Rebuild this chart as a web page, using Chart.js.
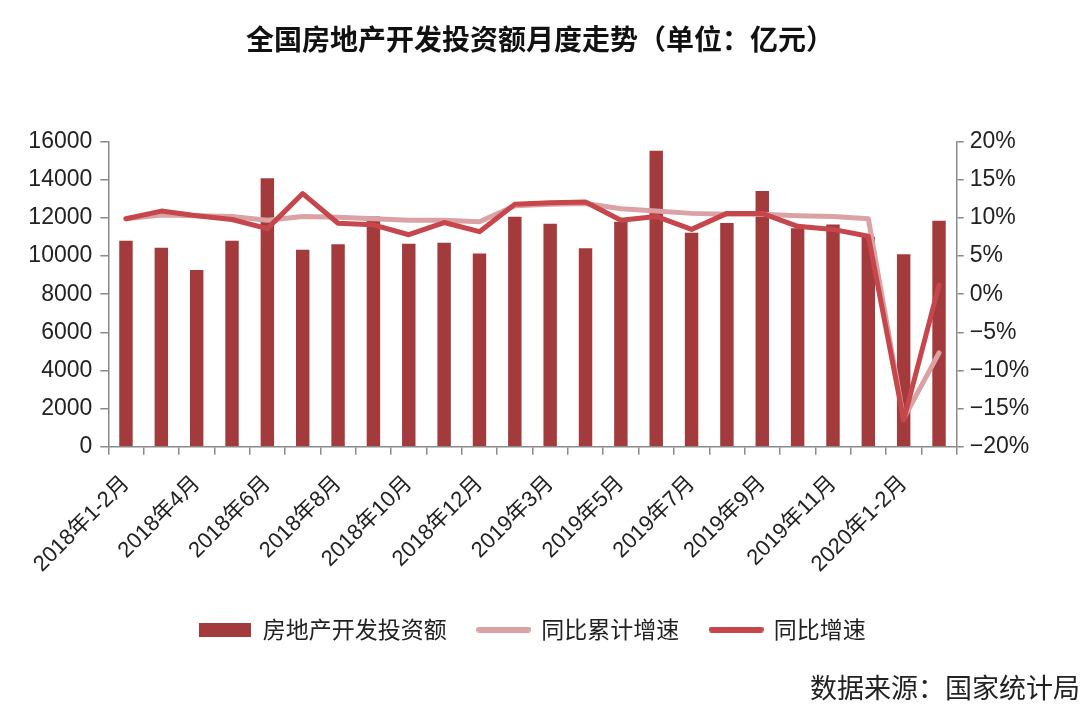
<!DOCTYPE html>
<html>
<head>
<meta charset="utf-8">
<script src="https://cdn.jsdelivr.net/npm/chart.js@4.4.1/dist/chart.umd.min.js"></script>
<style>
  html, body { margin: 0; padding: 0; background: #ffffff; }
  #wrap { width: 1080px; height: 718px; }
</style>
</head>
<body>
<div id="wrap"><canvas id="c" width="1080" height="718"></canvas></div>
<script>
// ---- data ----
const categories = ['2018年1-2月','2018年3月','2018年4月','2018年5月','2018年6月','2018年7月','2018年8月','2018年9月','2018年10月','2018年11月','2018年12月','2019年1-2月','2019年3月','2019年4月','2019年5月','2019年6月','2019年7月','2019年8月','2019年9月','2019年10月','2019年11月','2019年12月','2020年1-2月','2020年3月'];
const investment = [10807, 10440, 9270, 10807, 14077, 10335, 10615, 12080, 10650, 10700, 10140, 12067, 11700, 10407, 11800, 15527, 11226, 11740, 13410, 11454, 11660, 11016, 10093, 11850];
const cumulativeGrowth = [9.9, 10.4, 10.3, 10.2, 9.7, 10.2, 10.1, 9.9, 9.7, 9.7, 9.5, 11.6, 11.8, 11.9, 11.2, 10.9, 10.6, 10.5, 10.5, 10.3, 10.2, 9.9, -16.3, -7.7];
const monthlyGrowth = [9.9, 10.9, 10.3, 9.8, 8.6, 13.2, 9.3, 9.1, 7.8, 9.4, 8.2, 11.8, 12.0, 12.1, 9.7, 10.2, 8.5, 10.6, 10.6, 8.9, 8.5, 7.6, -16.5, 1.2];
const seriesNames = ['房地产开发投资额', '同比累计增速', '同比增速'];
const titleText = '全国房地产开发投资额月度走势（单位：亿元）';
const sourceText = '数据来源：国家统计局';

// ---- styles ----
const BAR = '#a33b3d';
const PINK = '#dba2a5';
const RED = '#c6464b';
const AXIS = '#8a8a8a';
const CJK = '"Noto Sans CJK SC"';
const NUM = '"Liberation Sans", "Noto Sans CJK SC"';

function swatch(w, h, color, rounded) {
  const c = document.createElement('canvas');
  c.width = w; c.height = h;
  const g = c.getContext('2d');
  if (rounded) {
    g.strokeStyle = color; g.lineWidth = h; g.lineCap = 'round';
    g.beginPath(); g.moveTo(h / 2, h / 2); g.lineTo(w - h / 2, h / 2); g.stroke();
  } else {
    g.fillStyle = color; g.fillRect(0, 0, w, h);
  }
  return c;
}
const legendImgs = [swatch(52, 14, BAR, false), swatch(55, 6, PINK, true), swatch(55, 6, RED, true)];

const ctx = document.getElementById('c').getContext('2d');
new Chart(ctx, {
  data: {
    labels: categories,
    datasets: [
      { type: 'bar', label: seriesNames[0], data: investment, backgroundColor: BAR, yAxisID: 'y',
        categoryPercentage: 1, barPercentage: 0.38, order: 3 },
      { type: 'line', label: seriesNames[1], data: cumulativeGrowth, borderColor: PINK, backgroundColor: PINK,
        borderWidth: 5, pointRadius: 0, tension: 0, yAxisID: 'y1', order: 2,
        borderCapStyle: 'round', borderJoinStyle: 'round' },
      { type: 'line', label: seriesNames[2], data: monthlyGrowth, borderColor: RED, backgroundColor: RED,
        borderWidth: 5, pointRadius: 0, tension: 0, yAxisID: 'y1', order: 1,
        borderCapStyle: 'round', borderJoinStyle: 'round' }
    ]
  },
  options: {
    responsive: false,
    animation: false,
    layout: { padding: 0 },
    scales: {
      x: {
        offset: true,
        grid: { offset: true, drawOnChartArea: false, drawTicks: true, tickLength: 8, color: AXIS, lineWidth: 1.5 },
        border: { display: true, color: AXIS, width: 1.5 },
        ticks: {
          autoSkip: false, maxRotation: 45, minRotation: 45, padding: 16,
          color: '#222', font: { family: NUM, size: 22 },
          callback: function (v, i) { return i % 2 === 0 ? categories[i] : ''; }
        },
        afterFit: function (s) { s.height = 140.3; }
      },
      y: {
        position: 'left', min: 0, max: 16000,
        grid: { drawOnChartArea: false, drawTicks: true, tickLength: 8, color: AXIS, lineWidth: 1.5 },
        border: { display: true, color: AXIS, width: 1.5 },
        ticks: { stepSize: 2000, padding: 8, color: '#222', font: { family: NUM, size: 23 },
          callback: function (v) { return String(v); } },
        afterFit: function (s) { s.width = 108.3; }
      },
      y1: {
        position: 'right', min: -20, max: 20,
        grid: { drawOnChartArea: false, drawTicks: true, tickLength: 7, color: AXIS, lineWidth: 1.5 },
        border: { display: true, color: AXIS, width: 1.5 },
        ticks: { stepSize: 5, padding: 6, color: '#222', font: { family: NUM, size: 23 },
          callback: function (v) { return (v < 0 ? '\u2212' + (-v) : v) + '%'; } },
        afterFit: function (s) { s.width = 123.3; }
      }
    },
    plugins: {
      tooltip: { enabled: false },
      title: {
        display: true, text: titleText, color: '#111',
        font: { family: CJK, size: 28, weight: 'bold' },
        padding: { top: 22.2, bottom: 85.9 }
      },
      subtitle: {
        display: true, position: 'bottom', align: 'end', text: sourceText, color: '#222',
        font: { family: CJK, size: 27, weight: 'normal' },
        padding: { top: 20.8, bottom: 13.8 }
      },
      legend: {
        display: true, position: 'bottom', fullSize: false,
        labels: {
          usePointStyle: true, pointStyleWidth: 52, padding: 31,
          color: '#222', font: { family: CJK, size: 23 },
          sort: function (a, b) { return a.datasetIndex - b.datasetIndex; },
          generateLabels: function (chart) {
            const items = Chart.defaults.plugins.legend.labels.generateLabels(chart);
            items.forEach(function (it) { it.pointStyle = legendImgs[it.datasetIndex]; });
            return items;
          }
        }
      }
    }
  }
});
</script>
</body>
</html>
